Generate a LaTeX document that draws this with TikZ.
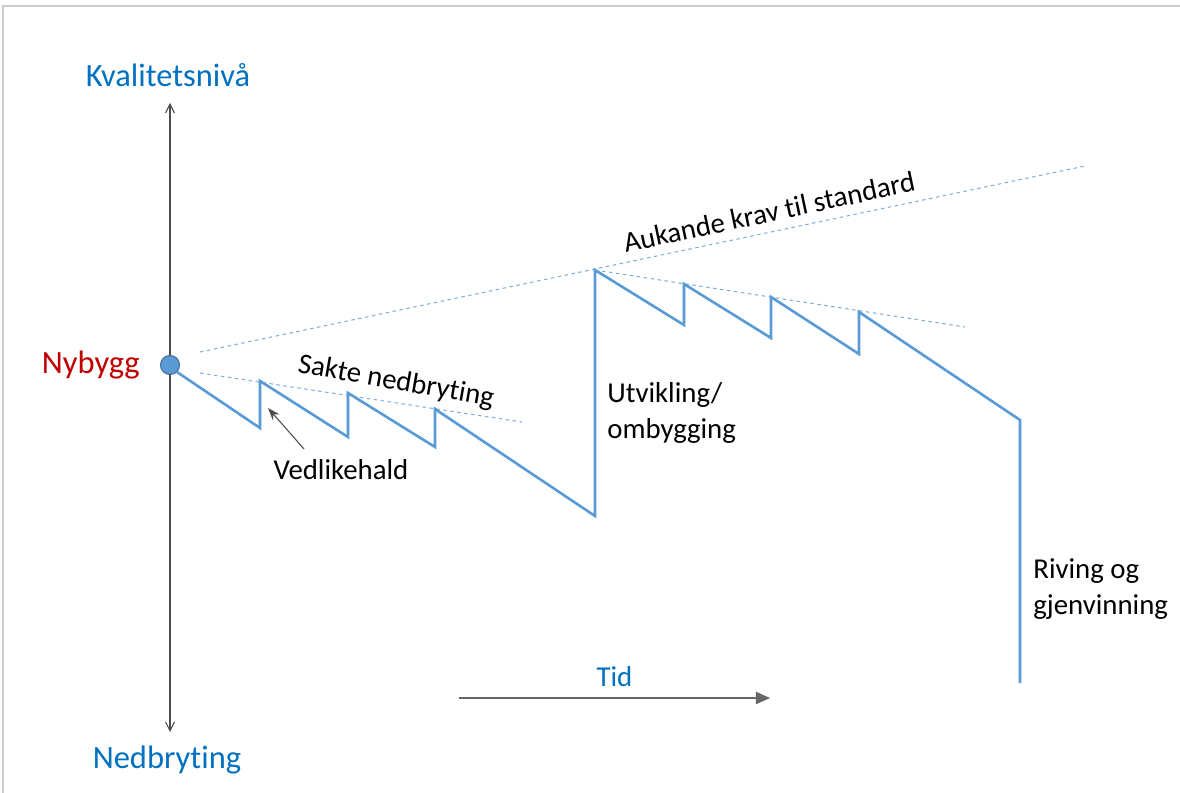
\documentclass[tikz,border=0pt]{standalone}
\usepackage{fontspec}
\setmainfont{Carlito}[Ligatures=NoCommon]
\usetikzlibrary{arrows.meta,positioning,calc}
\usepackage{xcolor}
\definecolor{lineblue}{RGB}{91,155,213}
\definecolor{textblue}{RGB}{0,112,192}
\definecolor{nyred}{RGB}{192,0,0}

\begin{document}
\begin{tikzpicture}[x=0.02cm, y=-0.02cm, font=\fontsize{16.4}{20}\selectfont, >=Stealth,
    saw/.style={draw=lineblue, line width=1.5pt},
    trend/.style={draw=lineblue!80, dash pattern=on 2pt off 2pt, line width=0.6pt},
    axis/.style={draw=black!70, line width=0.6pt},
    big/.style={font=\fontsize{18.5}{22}\selectfont},
    lbl/.style={align=left, inner sep=0pt}]

  \useasboundingbox (0,0) rectangle (1180,793);
  %% frame
  \draw[gray!40, line width=1.2pt] (3,793) -- (3,6) -- (1180,6);

  %% Y-axis
  \coordinate (ytop) at (170,103);
  \coordinate (ybot) at (170,732);
  \draw[axis, {Straight Barb[length=5pt,width=5pt]}-{Straight Barb[length=5pt,width=5pt]}]
    (ybot) -- (ytop);
  \node[textblue, big] (kval) at (168,75) {Kvalitetsnivå};
  \node[textblue, big] (nedb) at (167,760) {Nedbryting};

  %% start point
  \node[circle, fill=lineblue, draw=lineblue!70!black, line width=0.6pt,
        minimum size=0.38cm, inner sep=0pt] (nybygg) at (170,365) {};
  \node[nyred, big, left=8pt of nybygg] (nylbl) {Nybygg};

  %% trend lines
  \coordinate (peak) at (595,270);
  \draw[trend] (200,352) -- (1085,166);
  \draw[trend] (200,373) -- (522,422);
  \draw[trend] (peak) -- (965,327);

  %% quality curve
  \draw[saw] (nybygg.south east) -- (260,428) -- (260,381)
    -- (348,437) -- (348,393)
    -- (435,447) -- (435,409)
    -- (595,516) -- (peak)
    -- (684,325) -- (684,284)
    -- (771,338) -- (771,297)
    -- (859,354) -- (859,312)
    -- (1020,420) -- (1020,683);

  %% labels
  \node[rotate=-10] (sakte) at (396,382) {Sakte nedbryting};
  \node[rotate=12] (krav) at (769,212) {Aukande krav til standard};
  \node (vedl) at (341,470) {Vedlikehald};
  \coordinate (vedltail) at (304,449);
  \coordinate (vedltip) at (268,408);
  \draw[axis, -{Stealth[length=7pt,width=5pt]}] (vedltail) -- (vedltip);
  \node[lbl, anchor=west] (utv) at (607,413) {Utvikling/\\ombygging};
  \node[lbl, anchor=west] (riv) at (1033,589) {Riving og\\gjenvinning};

  %% time axis
  \coordinate (tidstart) at (459,698);
  \coordinate (tidend) at (770,698);
  \draw[axis, -{Triangle[length=8pt,width=7pt]}, black!60] (tidstart) -- (tidend);
  \node[textblue, above=3pt] (tid) at ($(tidstart)!0.5!(tidend)$) {Tid};

\end{tikzpicture}
\end{document}
